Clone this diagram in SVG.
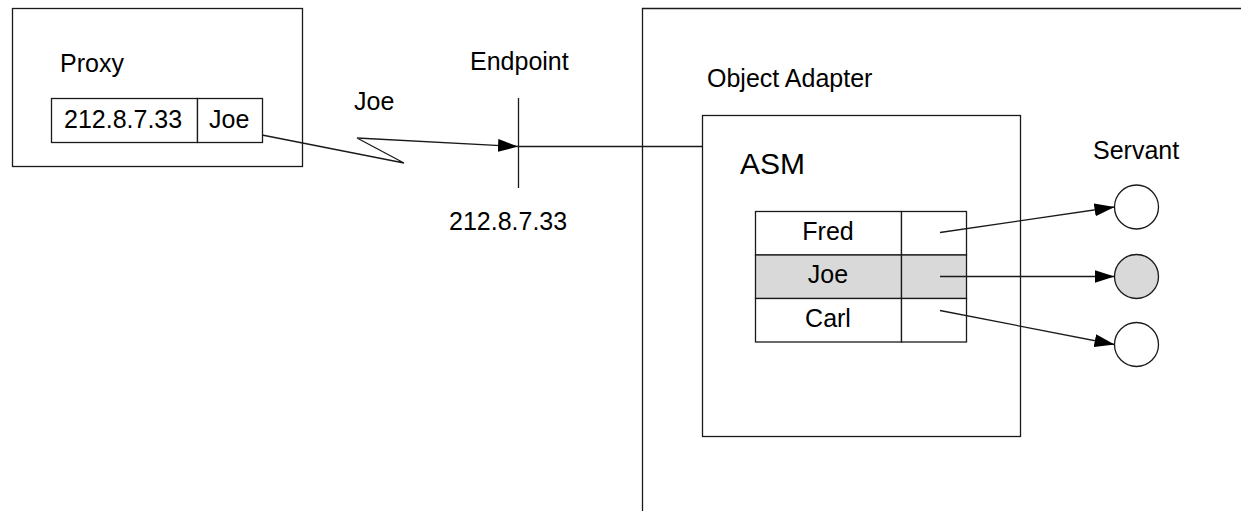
<svg xmlns="http://www.w3.org/2000/svg" width="1241" height="511" viewBox="0 0 1241 511">
  <style>
    .box { fill: #ffffff; stroke: #1a1a1a; stroke-width: 1.3; }
    .cell { fill: #ffffff; stroke: #1a1a1a; stroke-width: 1.3; }
    .sel { fill: #d9d9d9; }
    .line { fill: none; stroke: #1a1a1a; stroke-width: 1.3; }
    .lbl { font-family: "Liberation Sans", Arial, sans-serif; font-size: 25px; fill: #000000; }
    .big { font-size: 30px; }
    .mid { text-anchor: middle; }
  </style>
  <defs>
    <marker id="arrow" markerUnits="userSpaceOnUse" markerWidth="22" markerHeight="14" refX="20" refY="6.5" orient="auto">
      <path d="M0,0 L20,6.5 L0,13 Z" fill="#000000"/>
    </marker>
  </defs>

  <rect width="1241" height="511" fill="#ffffff"/>

  <!-- client side: proxy holding the endpoint address and object identity -->
  <g id="proxy">
    <rect class="box" x="12.5" y="8.5" width="290" height="158"/>
    <text class="lbl" x="60" y="72">Proxy</text>
    <rect class="cell" x="51.5" y="98.5" width="146" height="44"/>
    <rect class="cell" x="197.5" y="98.5" width="65" height="44"/>
    <text class="lbl" x="64" y="128">212.8.7.33</text>
    <text class="lbl" x="209" y="128">Joe</text>
  </g>

  <g id="request-label">
    <text class="lbl" x="354" y="110">Joe</text>
  </g>

  <!-- server endpoint -->
  <g id="endpoint">
    <line class="line" x1="518.5" y1="98" x2="518.5" y2="188"/>
    <text class="lbl" x="470" y="70">Endpoint</text>
    <text class="lbl" x="449" y="230">212.8.7.33</text>
  </g>

  <!-- object adapter region, open to the right and bottom -->
  <g id="object-adapter">
    <path class="line" d="M642.5,511 V8.5 H1241"/>
    <text class="lbl" x="707" y="87">Object Adapter</text>
  </g>

  <!-- active servant map -->
  <g id="asm">
    <rect class="box" x="702.5" y="115.5" width="318" height="321"/>
    <text class="lbl big" x="740" y="174">ASM</text>
    <rect class="cell" x="755.5" y="211.5" width="146" height="43.5"/>
    <rect class="cell" x="901.5" y="211.5" width="65" height="43.5"/>
    <rect class="cell sel" x="755.5" y="255" width="146" height="43.5"/>
    <rect class="cell sel" x="901.5" y="255" width="65" height="43.5"/>
    <rect class="cell" x="755.5" y="298.5" width="146" height="43.5"/>
    <rect class="cell" x="901.5" y="298.5" width="65" height="43.5"/>
    <text class="lbl mid" x="828" y="240">Fred</text>
    <text class="lbl mid" x="828" y="283">Joe</text>
    <text class="lbl mid" x="828" y="327">Carl</text>
  </g>

  <!-- servants -->
  <g id="servants">
    <text class="lbl" x="1093" y="159">Servant</text>
    <circle class="box" cx="1136.5" cy="207" r="22"/>
    <circle class="box sel" cx="1136.5" cy="276.5" r="22" style="fill:#d9d9d9"/>
    <circle class="box" cx="1136.5" cy="344.5" r="22"/>
  </g>

  <g id="connectors">
    <polyline class="line" points="262,135 404,163 357,138 518,146.5" marker-end="url(#arrow)"/>
    <line class="line" x1="518.5" y1="146.5" x2="702.5" y2="146.5"/>
    <line class="line" x1="940" y1="232.5" x2="1114.5" y2="207" marker-end="url(#arrow)"/>
    <line class="line" x1="940" y1="276.5" x2="1114.5" y2="276.5" marker-end="url(#arrow)"/>
    <line class="line" x1="940" y1="310.5" x2="1114.5" y2="344.5" marker-end="url(#arrow)"/>
  </g>
</svg>
